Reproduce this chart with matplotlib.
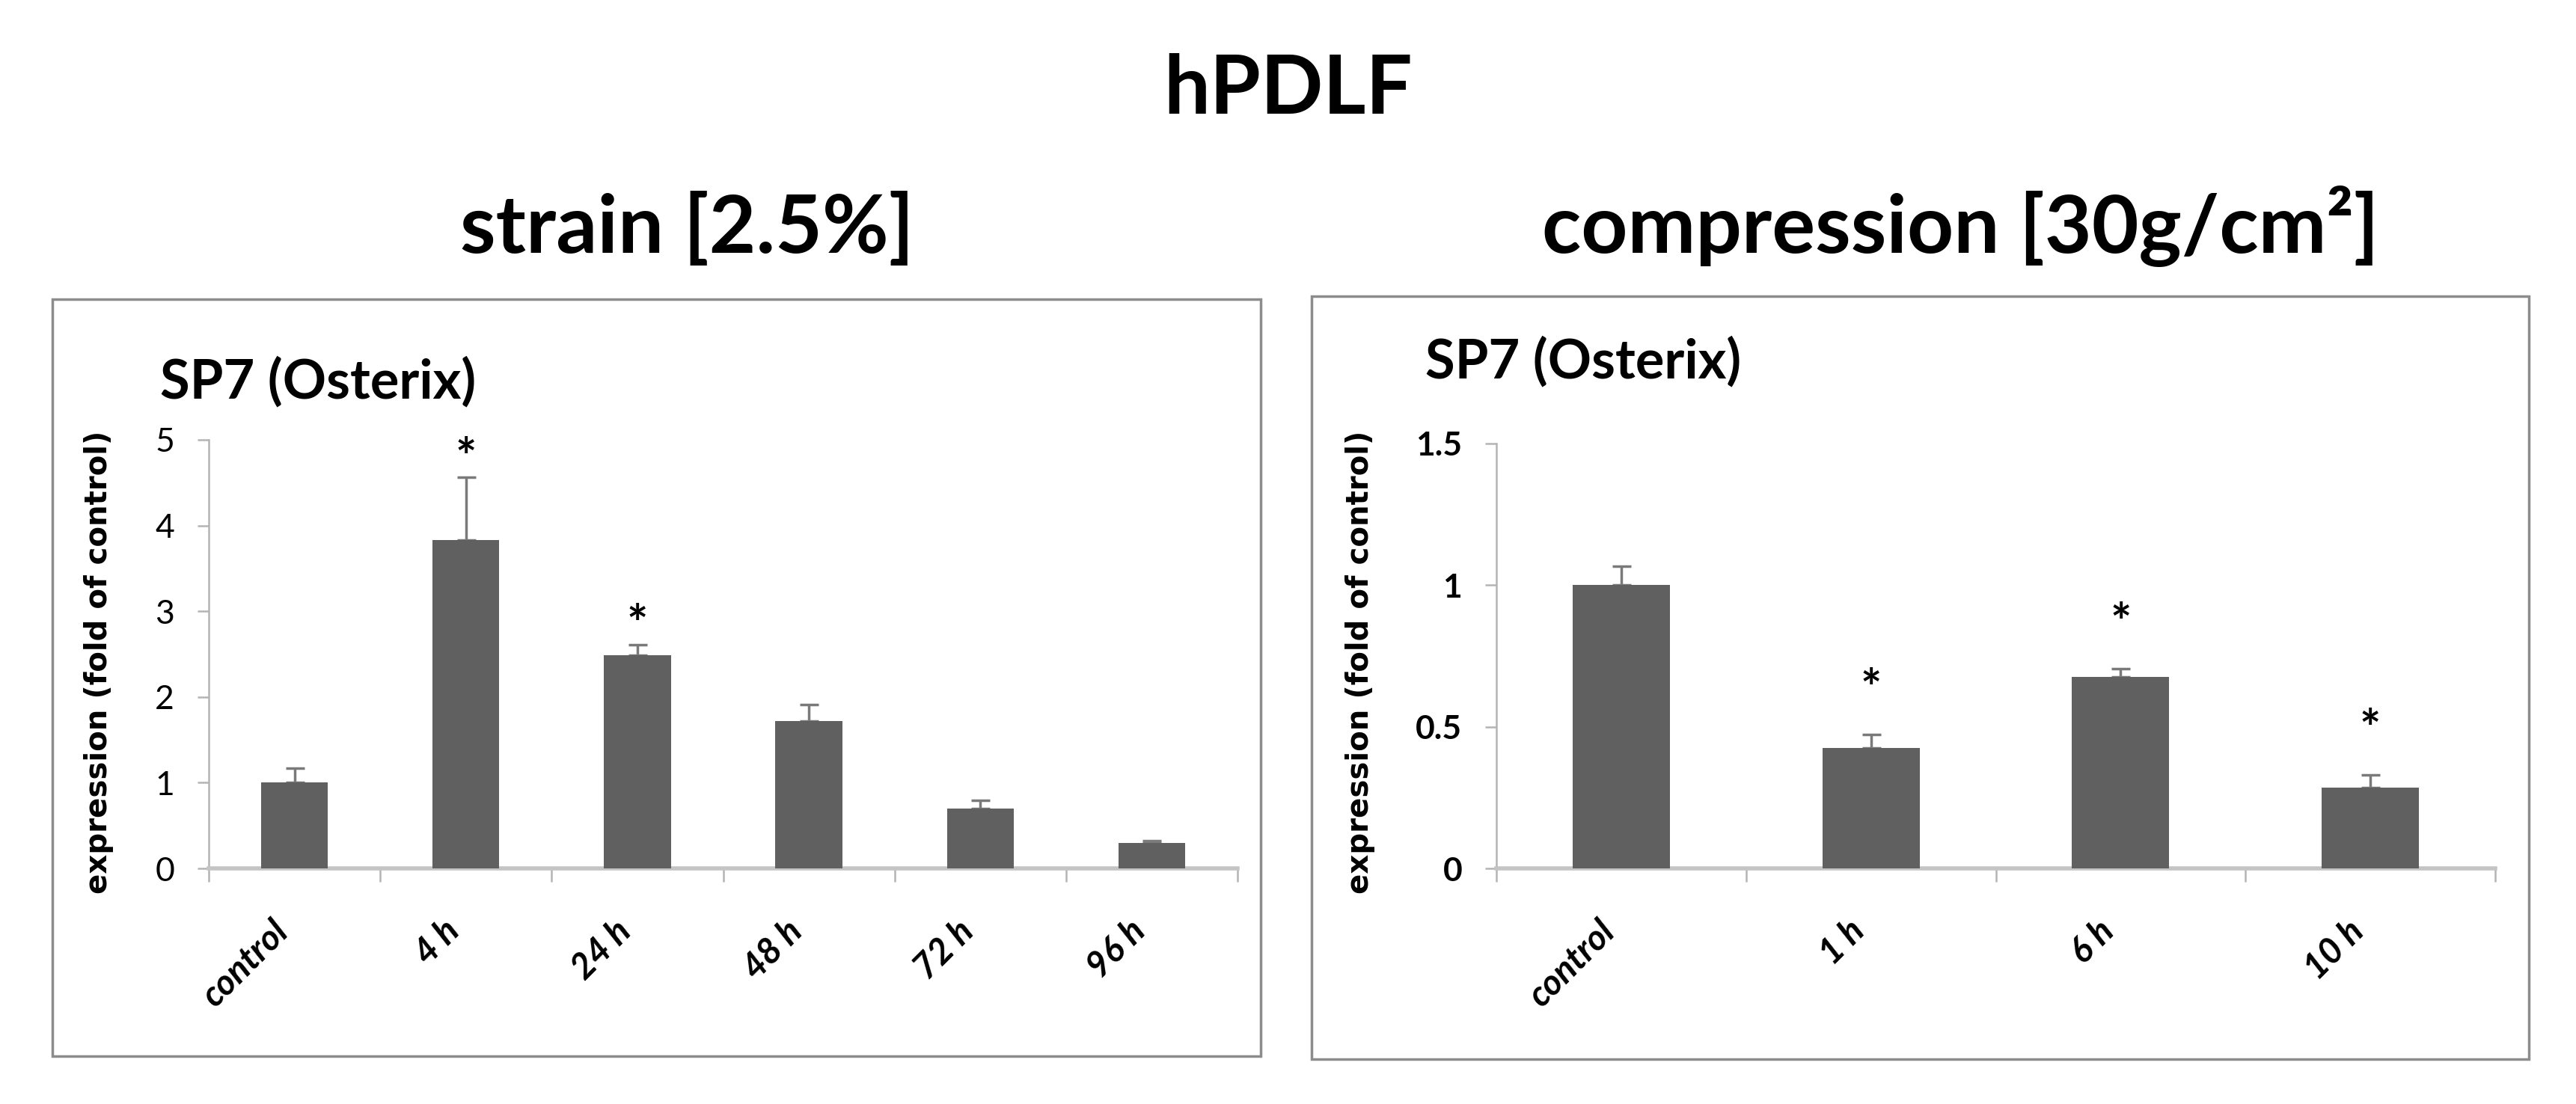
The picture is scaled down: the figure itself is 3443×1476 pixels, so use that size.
import numpy as np
import matplotlib.pyplot as plt
from matplotlib.patches import Rectangle

# data
strain_cats = ["control", "4 h", "24 h", "48 h", "72 h", "96 h"]
strain_vals = [1.0, 3.83, 2.49, 1.72, 0.70, 0.30]
strain_err = [0.17, 0.73, 0.12, 0.19, 0.09, 0.02]
strain_sig = [False, True, True, False, False, False]

comp_cats = ["control", "1 h", "6 h", "10 h"]
comp_vals = [1.0, 0.424, 0.675, 0.286]
comp_err = [0.067, 0.048, 0.03, 0.044]
comp_sig = [False, True, True, True]

W, H = 3443, 1476
BAR = "#606060"
AXC = "#b4b4b4"
FONT = "Lato"

fig = plt.figure(figsize=(W / 100, H / 100), dpi=100)


def fx(px):
    return px / W


def fy(py):
    return 1 - py / H


def panel(x0, x1, y_top, y_bot, cats, vals, errs, sig, ymax, yticks, ticklabels,
          tick_bold, star_off):
    ax = fig.add_axes([fx(x0), fy(y_bot), fx(x1) - fx(x0), fy(y_top) - fy(y_bot)])
    x = np.arange(len(cats))
    ax.bar(x, vals, width=0.39, color=BAR, zorder=3)
    ax.errorbar(x, vals, yerr=[np.zeros(len(vals)), errs], fmt="none",
                ecolor="#7a7a7a", elinewidth=2.5, capsize=9, capthick=2.5, zorder=2)
    for i, s in enumerate(sig):
        if s:
            ax.annotate("*", (i, vals[i] + errs[i]), xytext=(0, star_off),
                        textcoords="offset points", ha="center", va="center",
                        fontsize=48, fontweight="bold", family=FONT)
    ax.set_xlim(-0.5, len(cats) - 0.5)
    ax.set_ylim(0, ymax)
    for s in ["top", "right"]:
        ax.spines[s].set_visible(False)
    ax.spines["left"].set_color(AXC)
    ax.spines["left"].set_linewidth(1.8)
    ax.spines["bottom"].set_color("#c4c4c4")
    ax.spines["bottom"].set_linewidth(4)
    ax.set_yticks(yticks)
    ax.set_yticklabels(ticklabels, fontsize=32, family=FONT,
                       fontweight="bold" if tick_bold else "normal")
    ax.tick_params(axis="y", length=11, width=1.8, color=AXC, pad=22)
    ax.set_xticks(x)
    ax.set_xticklabels(cats, rotation=45, ha="right", va="top", fontsize=34,
                       family=FONT, style="italic", fontweight="bold")
    ax.tick_params(axis="x", which="major", length=0, pad=44)
    ax.set_xticks(np.arange(len(cats) + 1) - 0.5, minor=True)
    ax.tick_params(axis="x", which="minor", length=13, width=1.8, color=AXC)
    ax.patch.set_alpha(0)
    return ax


# panel frames
for (bx0, by0, bx1, by1) in [(70, 400, 1685, 1412), (1753, 396, 3380, 1416)]:
    fig.patches.append(Rectangle((fx(bx0), fy(by1)), fx(bx1) - fx(bx0), fy(by0) - fy(by1),
                                 transform=fig.transFigure, fill=False,
                                 edgecolor="#8c8c8c", linewidth=2.5))

panel(279, 1654, 588, 1161, strain_cats, strain_vals, strain_err, strain_sig,
      5, [0, 1, 2, 3, 4, 5], ["0", "1", "2", "3", "4", "5"], False, 17)
panel(2000, 3335, 593, 1161, comp_cats, comp_vals, comp_err, comp_sig,
      1.5, [0, 0.5, 1, 1.5], ["0", "0.5", "1", "1.5"], True, 42)

# titles
fig.text(fx(1722), fy(152), "hPDLF", ha="center", va="baseline", fontsize=79,
         fontweight="bold", family=FONT)
fig.text(fx(918), fy(338), "strain [2.5%]", ha="center", va="baseline", fontsize=78,
         fontweight="bold", family=FONT)
fig.text(fx(2620), fy(338), "compression [30g/cm²]", ha="center", va="baseline",
         fontsize=78, fontweight="bold", family=FONT)
fig.text(fx(214), fy(532), "SP7 (Osterix)", ha="left", va="baseline", fontsize=52,
         fontweight="bold", family=FONT)
fig.text(fx(1905), fy(505), "SP7 (Osterix)", ha="left", va="baseline", fontsize=52,
         fontweight="bold", family=FONT)

# y axis labels
for xc in [132, 1818]:
    fig.text(fx(xc), fy(885), "expression (fold of control)", rotation=90,
             ha="center", va="center", fontsize=29, fontweight="bold",
             family="DejaVu Sans")

fig.savefig("out.png", dpi=100)
